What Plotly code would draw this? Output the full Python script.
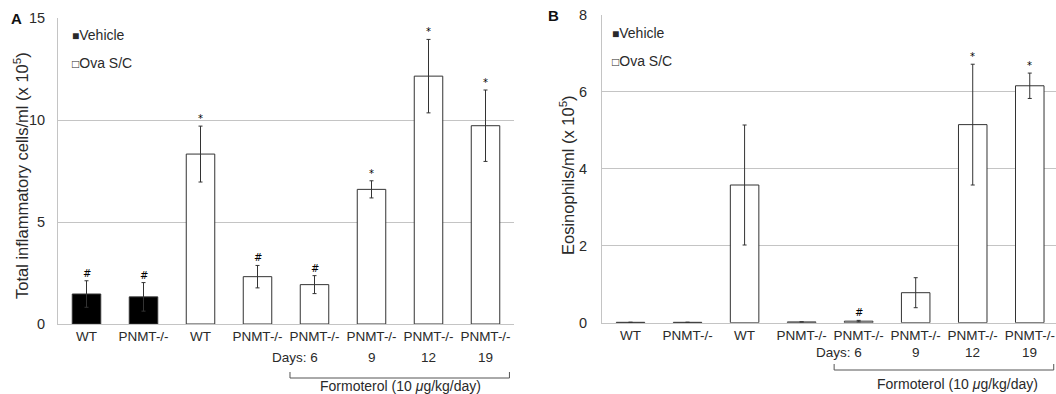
import plotly.graph_objects as go

# ---------------- data ----------------
labels = ["WT", "PNMT-/-", "WT", "PNMT-/-", "PNMT-/-", "PNMT-/-", "PNMT-/-", "PNMT-/-"]
groups = ["Vehicle", "Vehicle", "Ova", "Ova", "Ova", "Ova", "Ova", "Ova"]
days_labels = ["", "", "", "", "Days: 6", "9", "12", "19"]

total_vals = [1.47, 1.33, 8.33, 2.32, 1.93, 6.60, 12.15, 9.72]
total_errs = [0.65, 0.70, 1.37, 0.55, 0.44, 0.42, 1.80, 1.75]
total_sig = ["#", "#", "*", "#", "#", "*", "*", "*"]

eos_vals = [0.01, 0.01, 3.58, 0.02, 0.04, 0.78, 5.15, 6.16]
eos_errs = [0.0, 0.0, 1.56, 0.0, 0.02, 0.39, 1.57, 0.33]
eos_sig = ["", "", "", "", "#", "", "*", "*"]

A_yticks = [0, 5, 10, 15]
B_yticks = [0, 2, 4, 6, 8]
A_title = "Total inflammatory cells/ml (x 10<sup>5</sup>)"
B_title = "Eosinophils/ml (x 10<sup>5</sup>)"
bracket_text = "Formoterol (10 <i>\u03bc</i>g/kg/day)"

# ---------------- layout helpers ----------------
W, H = 1056, 394
FONT = "Liberation Sans, Arial, sans-serif"
TXT = "#2a2a2a"
GRID = "#c4c4c4"


def px(x):
    return x / W


def py(y):
    return 1 - y / H


fig = go.Figure()

panels = [
    dict(vals=total_vals, errs=total_errs, sig=total_sig, xa="x", ya="y"),
    dict(vals=eos_vals, errs=eos_errs, sig=eos_sig, xa="x2", ya="y2"),
]

for p in panels:
    for grp, fill in (("Vehicle", "black"), ("Ova", "white")):
        idx = [i for i, g in enumerate(groups) if g == grp]
        fig.add_trace(go.Bar(
            x=idx,
            y=[p["vals"][i] for i in idx],
            width=0.5,
            marker=dict(color=fill, line=dict(color="#333333", width=1)),
            error_y=dict(type="data", array=[p["errs"][i] for i in idx],
                         visible=True, color="#333333", thickness=1, width=2),
            xaxis=p["xa"], yaxis=p["ya"], showlegend=False,
        ))

annotations = []
shapes = []
for p in panels:
    for i, s in enumerate(p["sig"]):
        if s:
            annotations.append(dict(
                x=i, y=p["vals"][i] + p["errs"][i], xref=p["xa"], yref=p["ya"],
                text=s, showarrow=False, yanchor="bottom", yshift=0,
                font=dict(size=10, color="#000000", family="DejaVu Sans")))

# second row labels, bracket, bracket text
rows = [
    dict(xa="x", days_y=357, br_y=378, br_top=372, f_y=386, f_x=5.5),
    dict(xa="x2", days_y=352, br_y=370, br_top=364, f_y=384, f_x=5.73),
]
for r in rows:
    for i, d in enumerate(days_labels):
        if not d:
            continue
        first = d.startswith("Days")
        annotations.append(dict(
            x=i + (0.09 if first else 0), y=py(r["days_y"]), xref=r["xa"], yref="paper",
            text=d, showarrow=False, xanchor="right" if first else "center",
            yanchor="middle", font=dict(size=13.5, color=TXT, family=FONT)))
    x0, x1 = 3.57, 7.42
    shapes.append(dict(
        type="path", xref=r["xa"], yref="paper",
        path=f"M {x0},{py(r['br_top'])} L {x0},{py(r['br_y'])} L {x1},{py(r['br_y'])} L {x1},{py(r['br_top'])}",
        line=dict(color="#555555", width=1)))
    annotations.append(dict(
        x=r["f_x"], y=py(r["f_y"]), xref=r["xa"], yref="paper", text=bracket_text,
        showarrow=False, xanchor="center", yanchor="middle",
        font=dict(size=14, color=TXT, family=FONT)))

# axis titles
annotations.append(dict(x=px(21), y=py(176), xref="paper", yref="paper", text=A_title,
                        textangle=-90, showarrow=False, xanchor="center", yanchor="middle",
                        font=dict(size=16.5, color=TXT, family=FONT)))
annotations.append(dict(x=px(567), y=py(175), xref="paper", yref="paper", text=B_title,
                        textangle=-90, showarrow=False, xanchor="center", yanchor="middle",
                        font=dict(size=16.5, color=TXT, family=FONT)))

# panel letters
annotations.append(dict(x=px(9), y=py(18), xref="paper", yref="paper", text="<b>A</b>",
                        showarrow=False, xanchor="left", yanchor="middle",
                        font=dict(size=15, color="#111", family=FONT)))
annotations.append(dict(x=px(546), y=py(15), xref="paper", yref="paper", text="<b>B</b>",
                        showarrow=False, xanchor="left", yanchor="middle",
                        font=dict(size=15, color="#111", family=FONT)))

# legends
for lx, ly in ((70, 35), (610, 33)):
    annotations.append(dict(x=px(lx), y=py(ly), xref="paper", yref="paper",
                            text='<span style="font-size:12px">\u25a0</span>Vehicle',
                            showarrow=False, xanchor="left", yanchor="middle",
                            font=dict(size=14, color=TXT, family=FONT)))
    annotations.append(dict(x=px(lx), y=py(ly + 28), xref="paper", yref="paper",
                            text='<span style="font-size:12px">\u25a1</span>Ova S/C',
                            showarrow=False, xanchor="left", yanchor="middle",
                            font=dict(size=14, color=TXT, family=FONT)))

xcommon = dict(tickmode="array", tickvals=list(range(len(labels))), ticktext=labels,
               showgrid=False, zeroline=False, showline=True, linecolor=GRID, linewidth=1,
               ticks="", tickfont=dict(size=13.5, color=TXT, family=FONT), fixedrange=True,
               ticklabeloverflow="allow")
ycommon = dict(showgrid=True, gridcolor=GRID, gridwidth=1, zeroline=False,
               showline=True, linecolor=GRID, linewidth=1, ticks="",
               tickfont=dict(size=14.5, color=TXT, family=FONT), fixedrange=True)

fig.update_layout(
    width=W, height=H,
    margin=dict(l=0, r=0, t=0, b=0, autoexpand=False),
    paper_bgcolor="white", plot_bgcolor="white",
    barmode="overlay", showlegend=False,
    xaxis=dict(domain=[px(58), px(514)], range=[-0.5, 7.5], anchor="y", **xcommon),
    yaxis=dict(domain=[py(324), py(18)], range=[0, 15], tickvals=A_yticks, anchor="x",
               ticklabelstandoff=9, **ycommon),
    xaxis2=dict(domain=[px(602), 1.0], range=[-0.5, 7.46], anchor="y2", **xcommon),
    yaxis2=dict(domain=[py(322.7), py(15)], range=[0, 8], tickvals=B_yticks, anchor="x2",
                ticklabelstandoff=11, **ycommon),
    annotations=annotations,
    shapes=shapes,
)

fig.write_html("out.html")
